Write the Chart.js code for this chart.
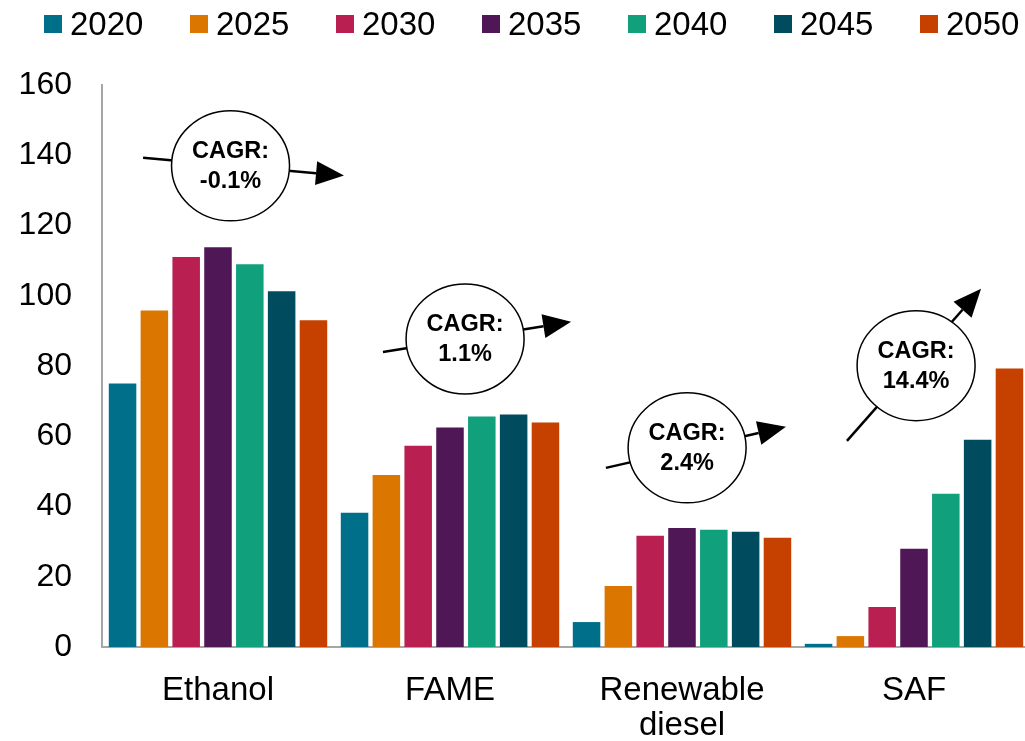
<!DOCTYPE html>
<html>
<head>
<meta charset="utf-8">
<script src="https://cdn.jsdelivr.net/npm/chart.js@4"></script>
<style>
  html, body { margin: 0; padding: 0; background: #fff; overflow: hidden; }
  #wrap { position: relative; width: 1032px; height: 741px; }
  #legend { position: absolute; left: 44px; top: 6px; display: flex; font-family: 'Liberation Sans', Arial, sans-serif; font-size: 33px; color: #000; }
  .item { width: 146px; display: flex; align-items: center; height: 36px; }
  .box { width: 18px; height: 18px; margin-right: 8px; flex: none; }
</style>
</head>
<body>
<div id="wrap">
  <canvas id="c" width="1032" height="741"></canvas>
  <div id="legend"></div>
</div>
<script>
const categories = ['Ethanol', 'FAME', ['Renewable', 'diesel'], 'SAF'];
const years = ['2020', '2025', '2030', '2035', '2040', '2045', '2050'];
const colors = ['#00708A', '#DB7600', '#B91F50', '#501756', '#10A07C', '#004B5E', '#C64000'];

const v2020 = [75.0, 38.2, 7.1, 0.9];
const v2025 = [95.8, 49.0, 17.4, 3.1];
const v2030 = [111.0, 57.3, 31.7, 11.4];
const v2035 = [113.8, 62.5, 33.9, 28.0];
const v2040 = [109.0, 65.6, 33.4, 43.6];
const v2045 = [101.3, 66.2, 32.8, 59.0];
const v2050 = [93.0, 63.9, 31.1, 79.3];
const seriesValues = [v2020, v2025, v2030, v2035, v2040, v2045, v2050];

const yTicks = [0, 20, 40, 60, 80, 100, 120, 140, 160];

// CAGR annotations (positions in data coordinates: category index, value)
const cagrLabels = ['-0.1%', '1.1%', '2.4%', '14.4%'];
const cagrCenterX = [0.054, 1.065, 2.022, 3.009];
const cagrCenterY = [137.0, 87.7, 56.7, 80.1];
const arrowFromX = [-0.323, 0.711, 1.672, 2.711];
const arrowFromY = [139.3, 84.0, 51.0, 58.7];
const arrowToX = [0.543, 1.522, 2.448, 3.289];
const arrowToY = [134.2, 92.6, 62.7, 102.0];

const FONT = "'Liberation Sans', Arial, sans-serif";

// HTML legend
const lg = document.getElementById('legend');
years.forEach((y, i) => {
  const it = document.createElement('div'); it.className = 'item';
  const b = document.createElement('div'); b.className = 'box'; b.style.background = colors[i];
  const t = document.createElement('span'); t.textContent = y;
  it.appendChild(b); it.appendChild(t); lg.appendChild(it);
});

const cagrPlugin = {
  id: 'cagr',
  afterDatasetsDraw(chart) {
    const ctx = chart.ctx, xs = chart.scales.x, ys = chart.scales.y;
    ctx.save();
    cagrLabels.forEach((lab, i) => {
      const x1 = xs.getPixelForValue(arrowFromX[i]), y1 = ys.getPixelForValue(arrowFromY[i]);
      const x2 = xs.getPixelForValue(arrowToX[i]), y2 = ys.getPixelForValue(arrowToY[i]);
      const ang = Math.atan2(y2 - y1, x2 - x1);
      const headLen = 28, headHalf = 12;
      const bx = x2 - headLen * Math.cos(ang), by = y2 - headLen * Math.sin(ang);
      ctx.strokeStyle = '#000'; ctx.lineWidth = 2.5;
      ctx.beginPath(); ctx.moveTo(x1, y1); ctx.lineTo(bx, by); ctx.stroke();
      ctx.fillStyle = '#000';
      ctx.beginPath();
      ctx.moveTo(x2, y2);
      ctx.lineTo(bx + headHalf * Math.sin(ang), by - headHalf * Math.cos(ang));
      ctx.lineTo(bx - headHalf * Math.sin(ang), by + headHalf * Math.cos(ang));
      ctx.closePath(); ctx.fill();
      const cx = xs.getPixelForValue(cagrCenterX[i]), cy = ys.getPixelForValue(cagrCenterY[i]);
      ctx.beginPath(); ctx.ellipse(cx, cy, 59, 55, 0, 0, Math.PI * 2);
      ctx.fillStyle = '#fff'; ctx.fill();
      ctx.lineWidth = 1.5; ctx.strokeStyle = '#000'; ctx.stroke();
      ctx.fillStyle = '#000';
      ctx.font = 'bold 23.5px ' + FONT;
      ctx.textAlign = 'center'; ctx.textBaseline = 'middle';
      ctx.fillText('CAGR:', cx, cy - 14);
      ctx.fillText(lab, cx, cy + 16);
    });
    ctx.restore();
  }
};

new Chart(document.getElementById('c'), {
  type: 'bar',
  data: {
    labels: categories,
    datasets: years.map((y, i) => ({
      label: y,
      data: seriesValues[i],
      backgroundColor: colors[i],
      borderWidth: 0,
      categoryPercentage: 0.96,
      barPercentage: 0.865
    }))
  },
  options: {
    responsive: false,
    animation: false,
    devicePixelRatio: 1,
    layout: { padding: { top: 85, right: 2, left: 0, bottom: 0 } },
    plugins: { legend: { display: false }, tooltip: { enabled: false } },
    scales: {
      x: {
        grid: { display: false, drawTicks: false },
        border: { display: true, color: '#A6A6A6', width: 2 },
        ticks: {
          color: '#000', font: { family: FONT, size: 33, lineHeight: 1.05 }, padding: 27,
          maxRotation: 0, autoSkip: false
        },
        afterFit(s) { s.height = 94; }
      },
      y: {
        min: 0, max: 160,
        afterBuildTicks(s) { s.ticks = yTicks.map(v => ({ value: v })); },
        grid: { display: false, drawTicks: false },
        border: { display: true, color: '#A6A6A6', width: 2 },
        ticks: { color: '#000', font: { family: FONT, size: 32 }, padding: 30 },
        afterFit(s) { s.width = 102; }
      }
    }
  },
  plugins: [cagrPlugin]
});
</script>
</body>
</html>
